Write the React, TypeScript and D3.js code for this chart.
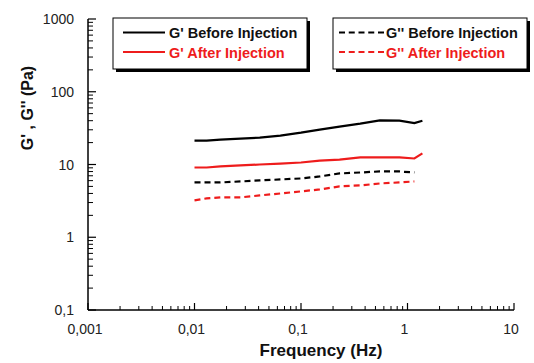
import React from "react";
import * as d3 from "d3";

const freqSolid = [0.01, 0.013, 0.0175, 0.027, 0.041, 0.064, 0.1, 0.15, 0.23, 0.36, 0.55, 0.84, 1.16, 1.38];
const freqDashed = [0.01, 0.013, 0.0175, 0.027, 0.041, 0.064, 0.1, 0.15, 0.23, 0.36, 0.55, 0.84, 1.16];
const gPrimeBefore = [21.3, 21.3, 22.0, 22.7, 23.4, 25.0, 27.4, 30.2, 33.2, 36.4, 40.5, 40.0, 37.0, 40.0];
const gPrimeAfter = [9.1, 9.1, 9.4, 9.7, 10.0, 10.3, 10.65, 11.3, 11.7, 12.5, 12.5, 12.5, 12.1, 14.2];
const gDoubleBefore = [5.67, 5.67, 5.67, 5.85, 6.04, 6.23, 6.43, 6.85, 7.53, 7.77, 8.02, 8.02, 7.77];
const gDoubleAfter = [3.21, 3.42, 3.53, 3.53, 3.76, 4.0, 4.27, 4.54, 5.0, 5.16, 5.49, 5.67, 5.85];
const xTickLabels = ["0,001", "0,01", "0,1", "1", "10"];
const yTickLabels = ["0,1", "1", "10", "100", "1000"];
const legendLeft = ["G' Before Injection", "G' After Injection"];
const legendRight = ["G'' Before Injection", "G'' After Injection"];

const W = 534, H = 363;
const FONT = "'Liberation Sans', Arial, sans-serif";
const RED = "#ee1c1c";

export default function App() {
  const x = d3.scaleLog().domain([0.001, 10]).range([88, 514]);
  const y = d3.scaleLog().domain([0.1, 1000]).range([310, 19]);

  const xMajor = [0.001, 0.01, 0.1, 1, 10];
  const yMajor = [0.1, 1, 10, 100, 1000];
  const xMinor: number[] = [];
  for (let d = 0; d < 4; d++) for (let k = 2; k <= 9; k++) xMinor.push(k * xMajor[d]);
  const yMinor: number[] = [];
  for (let d = 0; d < 4; d++) for (let k = 2; k <= 9; k++) yMinor.push(k * yMajor[d]);

  const mk = (fs: number[], vs: number[]) =>
    d3.line<number>().x((_, i) => x(fs[i])).y((v) => y(v)).curve(d3.curveLinear)(vs) || "";

  const series = [
    { f: freqSolid, v: gPrimeBefore, c: "#000", dash: undefined },
    { f: freqSolid, v: gPrimeAfter, c: RED, dash: undefined },
    { f: freqDashed, v: gDoubleBefore, c: "#000", dash: "6,4" },
    { f: freqDashed, v: gDoubleAfter, c: RED, dash: "6,4" },
  ];

  return (
    <svg width={W} height={H} style={{ position: "absolute", left: 0, top: 0, background: "#fff" }} fontFamily={FONT}>
      <rect width={W} height={H} fill="#fff" />
      {/* axes */}
      <line x1={88} x2={88} y1={19} y2={310} stroke="#000" strokeWidth={1.5} />
      <line x1={88} x2={514} y1={310} y2={310} stroke="#000" strokeWidth={1.5} />
      {xMajor.map((t) => (
        <line key={"xM" + t} x1={x(t)} x2={x(t)} y1={310} y2={303} stroke="#000" strokeWidth={1.2} />
      ))}
      {xMinor.map((t) => (
        <line key={"xm" + t} x1={x(t)} x2={x(t)} y1={310} y2={306} stroke="#000" strokeWidth={1} />
      ))}
      {yMajor.map((t) => (
        <line key={"yM" + t} x1={88} x2={96} y1={y(t)} y2={y(t)} stroke="#000" strokeWidth={1.2} />
      ))}
      {yMinor.map((t) => (
        <line key={"ym" + t} x1={88} x2={93} y1={y(t)} y2={y(t)} stroke="#000" strokeWidth={1} />
      ))}
      {xMajor.map((t, i) => (
        <text key={"xl" + t} x={x(t) - 3} y={334} textAnchor="middle" fontSize={14} fill="#222">
          {xTickLabels[i]}
        </text>
      ))}
      {yMajor.map((t, i) => (
        <text key={"yl" + t} x={74} y={y(t) + 5} textAnchor="end" fontSize={14} fill="#222">
          {yTickLabels[i]}
        </text>
      ))}
      <text x={321} y={356} textAnchor="middle" fontSize={17} fontWeight="bold" fill="#111">
        Frequency (Hz)
      </text>
      <text transform="translate(33,108) rotate(-90)" textAnchor="middle" fontSize={16} fontWeight="bold" fill="#111">
        G' , G'' (Pa)
      </text>
      {/* data */}
      {series.map((s, i) => (
        <path key={i} d={mk(s.f, s.v)} fill="none" stroke={s.c} strokeWidth={2.2} strokeDasharray={s.dash} />
      ))}
      {/* legends */}
      <rect x={116} y={21} width={194} height={51} fill="#000" />
      <rect x={113} y={18} width={194} height={51} fill="#fff" stroke="#000" strokeWidth={1} />
      <line x1={123} x2={165} y1={32.5} y2={32.5} stroke="#000" strokeWidth={2} />
      <line x1={123} x2={165} y1={52} y2={52} stroke={RED} strokeWidth={2} />
      <text x={169} y={38} fontSize={14.5} fontWeight="bold" fill="#111">{legendLeft[0]}</text>
      <text x={169} y={58} fontSize={14.5} fontWeight="bold" fill={RED}>{legendLeft[1]}</text>

      <rect x={336} y={21} width={194} height={51} fill="#000" />
      <rect x={333} y={18} width={194} height={51} fill="#fff" stroke="#000" strokeWidth={1} />
      <line x1={339} x2={384} y1={32.5} y2={32.5} stroke="#000" strokeWidth={2} strokeDasharray="6,3.75" />
      <line x1={339} x2={384} y1={52} y2={52} stroke={RED} strokeWidth={2} strokeDasharray="6,3.75" />
      <text x={386} y={38} fontSize={14.5} fontWeight="bold" fill="#111">{legendRight[0]}</text>
      <text x={386} y={58} fontSize={14.5} fontWeight="bold" fill={RED}>{legendRight[1]}</text>
    </svg>
  );
}
